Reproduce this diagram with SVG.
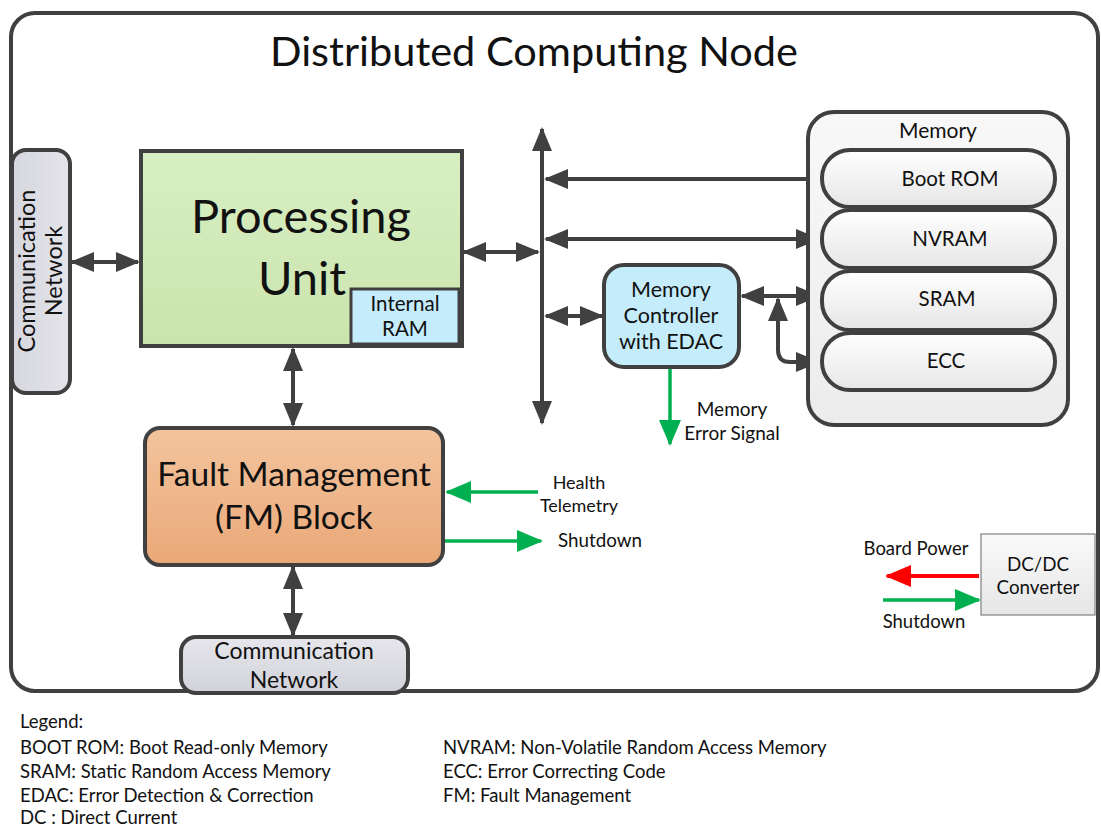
<svg xmlns="http://www.w3.org/2000/svg" width="1101" height="828" viewBox="0 0 1101 828">
<style>
text{font-family:Lato,"Open Sans","Liberation Sans",sans-serif;fill:#111}
.box{stroke:#404040;stroke-width:4}
.c{stroke:#404040;stroke-width:4;fill:none}
.g{stroke:#00b050;stroke-width:3.5;fill:none}
.r{stroke:#ff0000;stroke-width:4;fill:none}
.m{text-anchor:middle}
.lg{font-size:18.5px}
</style>
<defs>
<marker id="a" markerUnits="userSpaceOnUse" markerWidth="26" markerHeight="22" refX="22" refY="10" orient="auto-start-reverse"><path d="M0,0 L24,10 L0,20 z" fill="#404040"/></marker>
<marker id="ag" markerUnits="userSpaceOnUse" markerWidth="28" markerHeight="24" refX="24" refY="11" orient="auto"><path d="M0,0 L26,11 L0,22 z" fill="#00b050"/></marker>
<marker id="ar" markerUnits="userSpaceOnUse" markerWidth="28" markerHeight="24" refX="24" refY="11" orient="auto"><path d="M0,0 L26,11 L0,22 z" fill="#ff0000"/></marker>
<linearGradient id="gGreen" x1="0" y1="0" x2="0" y2="1"><stop offset="0" stop-color="#d8efc3"/><stop offset="1" stop-color="#cbe4ad"/></linearGradient>
<linearGradient id="gOrange" x1="0" y1="0" x2="0" y2="1"><stop offset="0" stop-color="#f3c49e"/><stop offset="1" stop-color="#eaa877"/></linearGradient>
<linearGradient id="gGray" x1="0" y1="0" x2="0" y2="1"><stop offset="0" stop-color="#e6e6ec"/><stop offset="1" stop-color="#d2d2da"/></linearGradient>
<linearGradient id="gGrayH" x1="0" y1="0" x2="1" y2="0"><stop offset="0" stop-color="#d6d6de"/><stop offset="1" stop-color="#e4e4ea"/></linearGradient>
<linearGradient id="gPill" x1="0" y1="0" x2="0" y2="1"><stop offset="0" stop-color="#ffffff"/><stop offset="1" stop-color="#e6e6e6"/></linearGradient>
<linearGradient id="gMem" x1="0" y1="0" x2="0" y2="1"><stop offset="0" stop-color="#f8f8f8"/><stop offset="1" stop-color="#ececec"/></linearGradient>
<linearGradient id="gDC" x1="0" y1="0" x2="0" y2="1"><stop offset="0" stop-color="#fafafa"/><stop offset="1" stop-color="#e6e6e6"/></linearGradient>
</defs>

<g id="node-frame">
<rect x="11" y="13" width="1087" height="678" rx="24" fill="#ffffff" class="box"/>
<text x="534" y="66" class="m" font-size="41.5">Distributed Computing Node</text>
</g>

<g id="connectors">
<line x1="72" y1="262" x2="138" y2="262" class="c" marker-start="url(#a)" marker-end="url(#a)"/>
<line x1="464" y1="252" x2="538" y2="252" class="c" marker-start="url(#a)" marker-end="url(#a)"/>
<line x1="542" y1="129" x2="542" y2="423" class="c" marker-start="url(#a)" marker-end="url(#a)"/>
<line x1="822" y1="179" x2="546" y2="179" class="c" marker-end="url(#a)"/>
<line x1="546" y1="239" x2="818" y2="239" class="c" marker-start="url(#a)" marker-end="url(#a)"/>
<line x1="546" y1="316" x2="602" y2="316" class="c" marker-start="url(#a)" marker-end="url(#a)"/>
<line x1="742" y1="296" x2="818" y2="296" class="c" marker-start="url(#a)" marker-end="url(#a)"/>
<path d="M778,299 L778,350 Q778,362 790,362 L818,362" class="c" marker-start="url(#a)" marker-end="url(#a)"/>
<line x1="293" y1="349" x2="293" y2="425" class="c" marker-start="url(#a)" marker-end="url(#a)"/>
<line x1="293" y1="567" x2="293" y2="635" class="c" marker-start="url(#a)" marker-end="url(#a)"/>
<line x1="670" y1="367" x2="670" y2="444" class="g" marker-end="url(#ag)"/>
<line x1="538" y1="492" x2="447" y2="492" class="g" marker-end="url(#ag)"/>
<line x1="445" y1="541" x2="541" y2="541" class="g" marker-end="url(#ag)"/>
<line x1="979" y1="576" x2="887" y2="576" class="r" marker-end="url(#ar)"/>
<line x1="883" y1="600" x2="979" y2="600" class="g" marker-end="url(#ag)"/>
</g>

<g id="comm-network-left">
<rect x="12" y="150" width="58" height="243" rx="14" fill="url(#gGrayH)" class="box"/>
<text transform="translate(35,271) rotate(-90)" class="m" font-size="23.5">Communication</text>
<text transform="translate(62,271) rotate(-90)" class="m" font-size="23.5">Network</text>
</g>

<g id="processing-unit">
<rect x="141" y="151" width="321" height="195" fill="url(#gGreen)" class="box"/>
<text x="301" y="233" class="m" font-size="47">Processing</text>
<text x="302" y="295" class="m" font-size="47">Unit</text>
</g>

<g id="internal-ram">
<rect x="351" y="289" width="108" height="55" fill="#c5ecfb" stroke="#404040" stroke-width="3"/>
<text x="405" y="311" class="m" font-size="20.5">Internal</text>
<text x="405" y="336" class="m" font-size="20.5">RAM</text>
</g>

<g id="memory-controller">
<rect x="604" y="265" width="135" height="102" rx="20" fill="#c5ecfb" class="box"/>
<text x="671" y="297" class="m" font-size="21.5">Memory</text>
<text x="671" y="323" class="m" font-size="21.5">Controller</text>
<text x="671" y="349" class="m" font-size="21.5">with EDAC</text>
</g>

<g id="memory-error-label">
<text x="732" y="416" class="m" font-size="19">Memory</text>
<text x="732" y="440" class="m" font-size="19">Error Signal</text>
</g>

<g id="memory">
<rect x="808" y="112" width="260" height="313" rx="26" fill="url(#gMem)" class="box"/>
<text x="938" y="138" class="m" font-size="21">Memory</text>
</g>

<g id="ecc">
<rect x="822" y="333" width="233" height="57" rx="28" fill="url(#gPill)" class="box"/>
<text x="946" y="368" class="m" font-size="20.5">ECC</text>
</g>
<g id="sram">
<rect x="822" y="271" width="233" height="59" rx="28" fill="url(#gPill)" class="box"/>
<text x="947" y="306" class="m" font-size="20.5">SRAM</text>
</g>
<g id="nvram">
<rect x="822" y="210" width="233" height="58" rx="28" fill="url(#gPill)" class="box"/>
<text x="950" y="246" class="m" font-size="20.5">NVRAM</text>
</g>
<g id="boot-rom">
<rect x="822" y="150" width="233" height="57" rx="28" fill="url(#gPill)" class="box"/>
<text x="950" y="186" class="m" font-size="20.5">Boot ROM</text>
</g>

<g id="fault-management">
<rect x="145" y="428" width="298" height="137" rx="15" fill="url(#gOrange)" class="box"/>
<text x="294" y="486" class="m" font-size="33.5">Fault Management</text>
<text x="294" y="529" class="m" font-size="33.5">(FM) Block</text>
</g>

<g id="fm-labels">
<text x="579" y="489" class="m" font-size="18">Health</text>
<text x="579" y="512" class="m" font-size="18">Telemetry</text>
<text x="558" y="547" font-size="18.8">Shutdown</text>
</g>

<g id="comm-network-bottom">
<rect x="181" y="637" width="227" height="56" rx="15" fill="url(#gGray)" class="box"/>
<text x="294" y="659" class="m" font-size="23">Communication</text>
<text x="294" y="688" class="m" font-size="23">Network</text>
</g>

<g id="dcdc-converter">
<rect x="981" y="534" width="114" height="81" fill="url(#gDC)" stroke="#808080" stroke-width="1.2"/>
<text x="1038" y="571" class="m" font-size="18.8">DC/DC</text>
<text x="1038" y="594" class="m" font-size="18.8">Converter</text>
</g>

<g id="power-labels">
<text x="916" y="555" class="m" font-size="18.5">Board Power</text>
<text x="924" y="628" class="m" font-size="18.5">Shutdown</text>
</g>

<g id="legend" class="lg">
<text x="20" y="728" font-size="18.5">Legend:</text>
<text x="20" y="754" font-size="18.5">BOOT ROM: Boot Read-only Memory</text>
<text x="20" y="778" font-size="18.5">SRAM: Static Random Access Memory</text>
<text x="20" y="802" font-size="18.5">EDAC: Error Detection &amp; Correction</text>
<text x="20" y="824" font-size="18.5">DC : Direct Current</text>
<text x="443" y="754" font-size="18.5">NVRAM: Non-Volatile Random Access Memory</text>
<text x="443" y="778" font-size="18.5">ECC: Error Correcting Code</text>
<text x="443" y="802" font-size="18.5">FM: Fault Management</text>
</g>
</svg>
